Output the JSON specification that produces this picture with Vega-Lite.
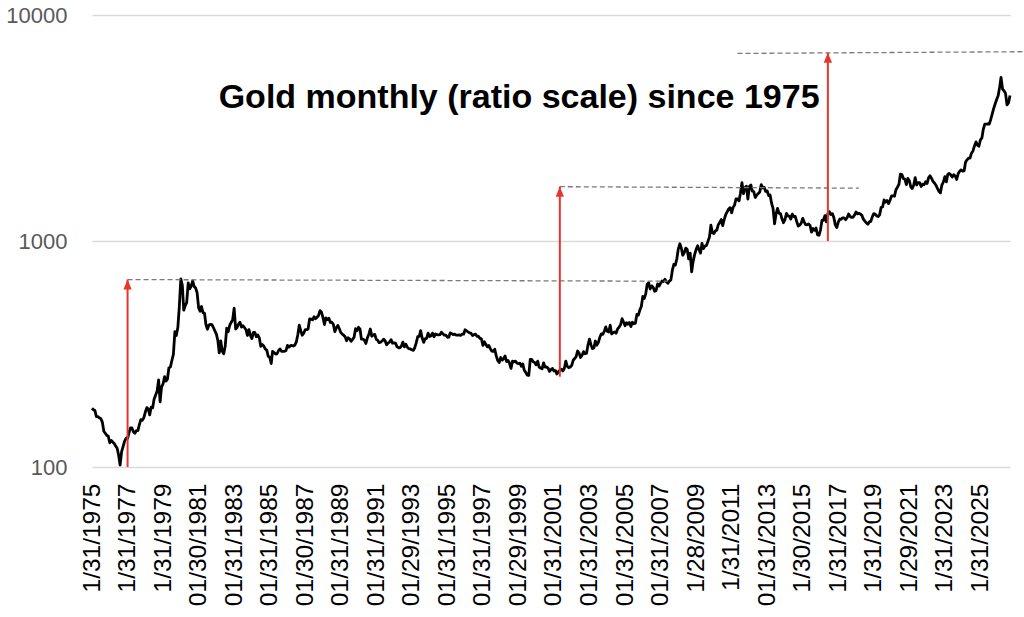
{
"$schema": "https://vega.github.io/schema/vega-lite/v6.json",
"autosize": {"type": "none"},
"padding": {"left": 92, "top": 15, "right": 14, "bottom": 150},
"width": 918,
"height": 452,
"background": "white",
"config": {"view": {"stroke": null}, "font": "Liberation Sans", "axisX": {"labelOverlap": false, "labelFlush": false, "labelBound": false}},
"datasets": {
"gold": [
{"d":"1975-01","v":182},{"d":"1975-02","v":179},{"d":"1975-03","v":178},{"d":"1975-04","v":167},{"d":"1975-05","v":167},{"d":"1975-06","v":165},{"d":"1975-07","v":164},{"d":"1975-08","v":158},{"d":"1975-09","v":144},{"d":"1975-10","v":141},{"d":"1975-11","v":138},{"d":"1975-12","v":137},
{"d":"1976-01","v":128},{"d":"1976-02","v":131},{"d":"1976-03","v":129},{"d":"1976-04","v":127},{"d":"1976-05","v":124},{"d":"1976-06","v":121},{"d":"1976-07","v":113},{"d":"1976-08","v":102},{"d":"1976-09","v":117},{"d":"1976-10","v":123},{"d":"1976-11","v":130},{"d":"1976-12","v":134},
{"d":"1977-01","v":134},{"d":"1977-02","v":142},{"d":"1977-03","v":149},{"d":"1977-04","v":149},{"d":"1977-05","v":143},{"d":"1977-06","v":141},{"d":"1977-07","v":145},{"d":"1977-08","v":145},{"d":"1977-09","v":154},{"d":"1977-10","v":162},{"d":"1977-11","v":161},{"d":"1977-12","v":165},
{"d":"1978-01","v":175},{"d":"1978-02","v":183},{"d":"1978-03","v":181},{"d":"1978-04","v":170},{"d":"1978-05","v":184},{"d":"1978-06","v":183},{"d":"1978-07","v":200},{"d":"1978-08","v":208},{"d":"1978-09","v":217},{"d":"1978-10","v":243},{"d":"1978-11","v":194},{"d":"1978-12","v":226},
{"d":"1979-01","v":233},{"d":"1979-02","v":251},{"d":"1979-03","v":240},{"d":"1979-04","v":245},{"d":"1979-05","v":275},{"d":"1979-06","v":277},{"d":"1979-07","v":296},{"d":"1979-08","v":315},{"d":"1979-09","v":397},{"d":"1979-10","v":382},{"d":"1979-11","v":415},{"d":"1979-12","v":512},
{"d":"1980-01","v":680},{"d":"1980-02","v":637},{"d":"1980-03","v":494},{"d":"1980-04","v":518},{"d":"1980-05","v":535},{"d":"1980-06","v":653},{"d":"1980-07","v":614},{"d":"1980-08","v":631},{"d":"1980-09","v":667},{"d":"1980-10","v":629},{"d":"1980-11","v":619},{"d":"1980-12","v":590},
{"d":"1981-01","v":506},{"d":"1981-02","v":489},{"d":"1981-03","v":513},{"d":"1981-04","v":482},{"d":"1981-05","v":480},{"d":"1981-06","v":426},{"d":"1981-07","v":407},{"d":"1981-08","v":425},{"d":"1981-09","v":428},{"d":"1981-10","v":427},{"d":"1981-11","v":414},{"d":"1981-12","v":400},
{"d":"1982-01","v":387},{"d":"1982-02","v":362},{"d":"1982-03","v":320},{"d":"1982-04","v":361},{"d":"1982-05","v":325},{"d":"1982-06","v":317},{"d":"1982-07","v":342},{"d":"1982-08","v":411},{"d":"1982-09","v":397},{"d":"1982-10","v":423},{"d":"1982-11","v":436},{"d":"1982-12","v":448},
{"d":"1983-01","v":505},{"d":"1983-02","v":408},{"d":"1983-03","v":414},{"d":"1983-04","v":429},{"d":"1983-05","v":437},{"d":"1983-06","v":416},{"d":"1983-07","v":422},{"d":"1983-08","v":414},{"d":"1983-09","v":405},{"d":"1983-10","v":382},{"d":"1983-11","v":405},{"d":"1983-12","v":382},
{"d":"1984-01","v":370},{"d":"1984-02","v":394},{"d":"1984-03","v":394},{"d":"1984-04","v":377},{"d":"1984-05","v":384},{"d":"1984-06","v":373},{"d":"1984-07","v":342},{"d":"1984-08","v":348},{"d":"1984-09","v":343},{"d":"1984-10","v":333},{"d":"1984-11","v":329},{"d":"1984-12","v":309},
{"d":"1985-01","v":306},{"d":"1985-02","v":287},{"d":"1985-03","v":325},{"d":"1985-04","v":321},{"d":"1985-05","v":316},{"d":"1985-06","v":317},{"d":"1985-07","v":327},{"d":"1985-08","v":333},{"d":"1985-09","v":325},{"d":"1985-10","v":325},{"d":"1985-11","v":325},{"d":"1985-12","v":327},
{"d":"1986-01","v":345},{"d":"1986-02","v":339},{"d":"1986-03","v":344},{"d":"1986-04","v":345},{"d":"1986-05","v":343},{"d":"1986-06","v":346},{"d":"1986-07","v":357},{"d":"1986-08","v":384},{"d":"1986-09","v":424},{"d":"1986-10","v":401},{"d":"1986-11","v":383},{"d":"1986-12","v":391},
{"d":"1987-01","v":405},{"d":"1987-02","v":405},{"d":"1987-03","v":408},{"d":"1987-04","v":452},{"d":"1987-05","v":451},{"d":"1987-06","v":448},{"d":"1987-07","v":462},{"d":"1987-08","v":453},{"d":"1987-09","v":460},{"d":"1987-10","v":468},{"d":"1987-11","v":492},{"d":"1987-12","v":484},
{"d":"1988-01","v":458},{"d":"1988-02","v":427},{"d":"1988-03","v":457},{"d":"1988-04","v":449},{"d":"1988-05","v":455},{"d":"1988-06","v":436},{"d":"1988-07","v":437},{"d":"1988-08","v":428},{"d":"1988-09","v":397},{"d":"1988-10","v":412},{"d":"1988-11","v":423},{"d":"1988-12","v":410},
{"d":"1989-01","v":394},{"d":"1989-02","v":387},{"d":"1989-03","v":383},{"d":"1989-04","v":377},{"d":"1989-05","v":362},{"d":"1989-06","v":373},{"d":"1989-07","v":369},{"d":"1989-08","v":360},{"d":"1989-09","v":367},{"d":"1989-10","v":375},{"d":"1989-11","v":409},{"d":"1989-12","v":401},
{"d":"1990-01","v":415},{"d":"1990-02","v":407},{"d":"1990-03","v":368},{"d":"1990-04","v":368},{"d":"1990-05","v":364},{"d":"1990-06","v":352},{"d":"1990-07","v":372},{"d":"1990-08","v":387},{"d":"1990-09","v":408},{"d":"1990-10","v":379},{"d":"1990-11","v":384},{"d":"1990-12","v":386},
{"d":"1991-01","v":367},{"d":"1991-02","v":363},{"d":"1991-03","v":355},{"d":"1991-04","v":357},{"d":"1991-05","v":361},{"d":"1991-06","v":368},{"d":"1991-07","v":362},{"d":"1991-08","v":347},{"d":"1991-09","v":354},{"d":"1991-10","v":357},{"d":"1991-11","v":366},{"d":"1991-12","v":353},
{"d":"1992-01","v":354},{"d":"1992-02","v":353},{"d":"1992-03","v":341},{"d":"1992-04","v":337},{"d":"1992-05","v":337},{"d":"1992-06","v":343},{"d":"1992-07","v":357},{"d":"1992-08","v":340},{"d":"1992-09","v":349},{"d":"1992-10","v":339},{"d":"1992-11","v":334},{"d":"1992-12","v":333},
{"d":"1993-01","v":330},{"d":"1993-02","v":328},{"d":"1993-03","v":337},{"d":"1993-04","v":354},{"d":"1993-05","v":377},{"d":"1993-06","v":378},{"d":"1993-07","v":401},{"d":"1993-08","v":372},{"d":"1993-09","v":356},{"d":"1993-10","v":369},{"d":"1993-11","v":371},{"d":"1993-12","v":391},
{"d":"1994-01","v":378},{"d":"1994-02","v":381},{"d":"1994-03","v":391},{"d":"1994-04","v":377},{"d":"1994-05","v":388},{"d":"1994-06","v":385},{"d":"1994-07","v":384},{"d":"1994-08","v":385},{"d":"1994-09","v":395},{"d":"1994-10","v":389},{"d":"1994-11","v":383},{"d":"1994-12","v":383},
{"d":"1995-01","v":375},{"d":"1995-02","v":376},{"d":"1995-03","v":392},{"d":"1995-04","v":389},{"d":"1995-05","v":385},{"d":"1995-06","v":387},{"d":"1995-07","v":383},{"d":"1995-08","v":383},{"d":"1995-09","v":384},{"d":"1995-10","v":382},{"d":"1995-11","v":387},{"d":"1995-12","v":387},
{"d":"1996-01","v":405},{"d":"1996-02","v":400},{"d":"1996-03","v":396},{"d":"1996-04","v":392},{"d":"1996-05","v":391},{"d":"1996-06","v":382},{"d":"1996-07","v":385},{"d":"1996-08","v":387},{"d":"1996-09","v":379},{"d":"1996-10","v":379},{"d":"1996-11","v":371},{"d":"1996-12","v":369},
{"d":"1997-01","v":345},{"d":"1997-02","v":358},{"d":"1997-03","v":349},{"d":"1997-04","v":340},{"d":"1997-05","v":345},{"d":"1997-06","v":334},{"d":"1997-07","v":326},{"d":"1997-08","v":325},{"d":"1997-09","v":332},{"d":"1997-10","v":311},{"d":"1997-11","v":296},{"d":"1997-12","v":290},
{"d":"1998-01","v":305},{"d":"1998-02","v":297},{"d":"1998-03","v":301},{"d":"1998-04","v":310},{"d":"1998-05","v":293},{"d":"1998-06","v":296},{"d":"1998-07","v":288},{"d":"1998-08","v":273},{"d":"1998-09","v":294},{"d":"1998-10","v":292},{"d":"1998-11","v":294},{"d":"1998-12","v":288},
{"d":"1999-01","v":287},{"d":"1999-02","v":288},{"d":"1999-03","v":279},{"d":"1999-04","v":286},{"d":"1999-05","v":268},{"d":"1999-06","v":262},{"d":"1999-07","v":255},{"d":"1999-08","v":254},{"d":"1999-09","v":299},{"d":"1999-10","v":299},{"d":"1999-11","v":292},{"d":"1999-12","v":290},
{"d":"2000-01","v":283},{"d":"2000-02","v":294},{"d":"2000-03","v":277},{"d":"2000-04","v":274},{"d":"2000-05","v":272},{"d":"2000-06","v":289},{"d":"2000-07","v":277},{"d":"2000-08","v":277},{"d":"2000-09","v":274},{"d":"2000-10","v":265},{"d":"2000-11","v":270},{"d":"2000-12","v":273},
{"d":"2001-01","v":266},{"d":"2001-02","v":267},{"d":"2001-03","v":258},{"d":"2001-04","v":264},{"d":"2001-05","v":268},{"d":"2001-06","v":271},{"d":"2001-07","v":266},{"d":"2001-08","v":273},{"d":"2001-09","v":294},{"d":"2001-10","v":279},{"d":"2001-11","v":275},{"d":"2001-12","v":277},
{"d":"2002-01","v":282},{"d":"2002-02","v":297},{"d":"2002-03","v":302},{"d":"2002-04","v":308},{"d":"2002-05","v":326},{"d":"2002-06","v":319},{"d":"2002-07","v":305},{"d":"2002-08","v":312},{"d":"2002-09","v":324},{"d":"2002-10","v":317},{"d":"2002-11","v":319},{"d":"2002-12","v":347},
{"d":"2003-01","v":368},{"d":"2003-02","v":347},{"d":"2003-03","v":334},{"d":"2003-04","v":336},{"d":"2003-05","v":361},{"d":"2003-06","v":346},{"d":"2003-07","v":355},{"d":"2003-08","v":375},{"d":"2003-09","v":388},{"d":"2003-10","v":386},{"d":"2003-11","v":398},{"d":"2003-12","v":417},
{"d":"2004-01","v":399},{"d":"2004-02","v":396},{"d":"2004-03","v":424},{"d":"2004-04","v":388},{"d":"2004-05","v":393},{"d":"2004-06","v":396},{"d":"2004-07","v":391},{"d":"2004-08","v":408},{"d":"2004-09","v":416},{"d":"2004-10","v":426},{"d":"2004-11","v":453},{"d":"2004-12","v":438},
{"d":"2005-01","v":422},{"d":"2005-02","v":435},{"d":"2005-03","v":428},{"d":"2005-04","v":436},{"d":"2005-05","v":418},{"d":"2005-06","v":437},{"d":"2005-07","v":430},{"d":"2005-08","v":433},{"d":"2005-09","v":473},{"d":"2005-10","v":470},{"d":"2005-11","v":495},{"d":"2005-12","v":513},
{"d":"2006-01","v":569},{"d":"2006-02","v":557},{"d":"2006-03","v":582},{"d":"2006-04","v":644},{"d":"2006-05","v":653},{"d":"2006-06","v":613},{"d":"2006-07","v":633},{"d":"2006-08","v":624},{"d":"2006-09","v":599},{"d":"2006-10","v":604},{"d":"2006-11","v":646},{"d":"2006-12","v":632},
{"d":"2007-01","v":650},{"d":"2007-02","v":665},{"d":"2007-03","v":662},{"d":"2007-04","v":677},{"d":"2007-05","v":659},{"d":"2007-06","v":650},{"d":"2007-07","v":665},{"d":"2007-08","v":673},{"d":"2007-09","v":743},{"d":"2007-10","v":789},{"d":"2007-11","v":783},{"d":"2007-12","v":834},
{"d":"2008-01","v":923},{"d":"2008-02","v":972},{"d":"2008-03","v":934},{"d":"2008-04","v":865},{"d":"2008-05","v":886},{"d":"2008-06","v":930},{"d":"2008-07","v":918},{"d":"2008-08","v":833},{"d":"2008-09","v":884},{"d":"2008-10","v":730},{"d":"2008-11","v":815},{"d":"2008-12","v":870},
{"d":"2009-01","v":919},{"d":"2009-02","v":952},{"d":"2009-03","v":916},{"d":"2009-04","v":884},{"d":"2009-05","v":975},{"d":"2009-06","v":926},{"d":"2009-07","v":949},{"d":"2009-08","v":955},{"d":"2009-09","v":996},{"d":"2009-10","v":1040},{"d":"2009-11","v":1175},{"d":"2009-12","v":1088},
{"d":"2010-01","v":1078},{"d":"2010-02","v":1109},{"d":"2010-03","v":1115},{"d":"2010-04","v":1180},{"d":"2010-05","v":1207},{"d":"2010-06","v":1244},{"d":"2010-07","v":1169},{"d":"2010-08","v":1246},{"d":"2010-09","v":1307},{"d":"2010-10","v":1346},{"d":"2010-11","v":1386},{"d":"2010-12","v":1405},
{"d":"2011-01","v":1333},{"d":"2011-02","v":1411},{"d":"2011-03","v":1439},{"d":"2011-04","v":1535},{"d":"2011-05","v":1536},{"d":"2011-06","v":1505},{"d":"2011-07","v":1628},{"d":"2011-08","v":1813},{"d":"2011-09","v":1620},{"d":"2011-10","v":1722},{"d":"2011-11","v":1746},{"d":"2011-12","v":1531},
{"d":"2012-01","v":1744},{"d":"2012-02","v":1770},{"d":"2012-03","v":1662},{"d":"2012-04","v":1651},{"d":"2012-05","v":1558},{"d":"2012-06","v":1598},{"d":"2012-07","v":1622},{"d":"2012-08","v":1648},{"d":"2012-09","v":1776},{"d":"2012-10","v":1719},{"d":"2012-11","v":1726},{"d":"2012-12","v":1657},
{"d":"2013-01","v":1664},{"d":"2013-02","v":1588},{"d":"2013-03","v":1598},{"d":"2013-04","v":1469},{"d":"2013-05","v":1394},{"d":"2013-06","v":1192},{"d":"2013-07","v":1314},{"d":"2013-08","v":1394},{"d":"2013-09","v":1327},{"d":"2013-10","v":1323},{"d":"2013-11","v":1253},{"d":"2013-12","v":1204},
{"d":"2014-01","v":1244},{"d":"2014-02","v":1326},{"d":"2014-03","v":1291},{"d":"2014-04","v":1288},{"d":"2014-05","v":1250},{"d":"2014-06","v":1315},{"d":"2014-07","v":1282},{"d":"2014-08","v":1286},{"d":"2014-09","v":1216},{"d":"2014-10","v":1164},{"d":"2014-11","v":1175},{"d":"2014-12","v":1199},
{"d":"2015-01","v":1260},{"d":"2015-02","v":1212},{"d":"2015-03","v":1183},{"d":"2015-04","v":1180},{"d":"2015-05","v":1189},{"d":"2015-06","v":1171},{"d":"2015-07","v":1095},{"d":"2015-08","v":1135},{"d":"2015-09","v":1115},{"d":"2015-10","v":1142},{"d":"2015-11","v":1065},{"d":"2015-12","v":1060},
{"d":"2016-01","v":1118},{"d":"2016-02","v":1234},{"d":"2016-03","v":1233},{"d":"2016-04","v":1294},{"d":"2016-05","v":1215},{"d":"2016-06","v":1321},{"d":"2016-07","v":1349},{"d":"2016-08","v":1309},{"d":"2016-09","v":1322},{"d":"2016-10","v":1272},{"d":"2016-11","v":1178},{"d":"2016-12","v":1146},
{"d":"2017-01","v":1211},{"d":"2017-02","v":1251},{"d":"2017-03","v":1247},{"d":"2017-04","v":1266},{"d":"2017-05","v":1266},{"d":"2017-06","v":1242},{"d":"2017-07","v":1268},{"d":"2017-08","v":1316},{"d":"2017-09","v":1283},{"d":"2017-10","v":1271},{"d":"2017-11","v":1275},{"d":"2017-12","v":1303},
{"d":"2018-01","v":1345},{"d":"2018-02","v":1318},{"d":"2018-03","v":1325},{"d":"2018-04","v":1316},{"d":"2018-05","v":1298},{"d":"2018-06","v":1250},{"d":"2018-07","v":1224},{"d":"2018-08","v":1202},{"d":"2018-09","v":1187},{"d":"2018-10","v":1215},{"d":"2018-11","v":1222},{"d":"2018-12","v":1279},
{"d":"2019-01","v":1321},{"d":"2019-02","v":1313},{"d":"2019-03","v":1292},{"d":"2019-04","v":1283},{"d":"2019-05","v":1305},{"d":"2019-06","v":1409},{"d":"2019-07","v":1414},{"d":"2019-08","v":1520},{"d":"2019-09","v":1485},{"d":"2019-10","v":1511},{"d":"2019-11","v":1464},{"d":"2019-12","v":1515},
{"d":"2020-01","v":1582},{"d":"2020-02","v":1585},{"d":"2020-03","v":1577},{"d":"2020-04","v":1687},{"d":"2020-05","v":1730},{"d":"2020-06","v":1781},{"d":"2020-07","v":1975},{"d":"2020-08","v":1968},{"d":"2020-09","v":1886},{"d":"2020-10","v":1879},{"d":"2020-11","v":1776},{"d":"2020-12","v":1891},
{"d":"2021-01","v":1847},{"d":"2021-02","v":1734},{"d":"2021-03","v":1708},{"d":"2021-04","v":1768},{"d":"2021-05","v":1906},{"d":"2021-06","v":1770},{"d":"2021-07","v":1814},{"d":"2021-08","v":1814},{"d":"2021-09","v":1743},{"d":"2021-10","v":1783},{"d":"2021-11","v":1774},{"d":"2021-12","v":1829},
{"d":"2022-01","v":1797},{"d":"2022-02","v":1909},{"d":"2022-03","v":1942},{"d":"2022-04","v":1897},{"d":"2022-05","v":1837},{"d":"2022-06","v":1807},{"d":"2022-07","v":1766},{"d":"2022-08","v":1711},{"d":"2022-09","v":1660},{"d":"2022-10","v":1633},{"d":"2022-11","v":1768},{"d":"2022-12","v":1824},
{"d":"2023-01","v":1928},{"d":"2023-02","v":1826},{"d":"2023-03","v":1969},{"d":"2023-04","v":1990},{"d":"2023-05","v":1962},{"d":"2023-06","v":1919},{"d":"2023-07","v":1965},{"d":"2023-08","v":1940},{"d":"2023-09","v":1871},{"d":"2023-10","v":1983},{"d":"2023-11","v":2036},{"d":"2023-12","v":2063},
{"d":"2024-01","v":2040},{"d":"2024-02","v":2044},{"d":"2024-03","v":2230},{"d":"2024-04","v":2286},{"d":"2024-05","v":2327},{"d":"2024-06","v":2326},{"d":"2024-07","v":2447},{"d":"2024-08","v":2503},{"d":"2024-09","v":2634},{"d":"2024-10","v":2744},{"d":"2024-11","v":2657},{"d":"2024-12","v":2625},
{"d":"2025-01","v":2800},{"d":"2025-02","v":2860},{"d":"2025-03","v":3120},{"d":"2025-04","v":3290},{"d":"2025-05","v":3290},{"d":"2025-06","v":3300},{"d":"2025-07","v":3290},{"d":"2025-08","v":3450},{"d":"2025-09","v":3650},{"d":"2025-10","v":3860},{"d":"2025-11","v":4050},{"d":"2025-12","v":4230},
{"d":"2026-01","v":4400},{"d":"2026-02","v":4800},{"d":"2026-03","v":5300},{"d":"2026-04","v":4700},{"d":"2026-05","v":4620},{"d":"2026-06","v":4500},{"d":"2026-07","v":4000},{"d":"2026-08","v":4080},{"d":"2026-09","v":4400}
],
"dashes": [
{"seg":"a","d":"1977-01","v":675},{"seg":"a","d":"2007-06","v":664},
{"seg":"b","d":"2001-05","v":1739},{"seg":"b","d":"2018-03","v":1713},
{"seg":"c","d":"2011-05","v":6760},{"seg":"c","d":"2027-06","v":6880}
],
"arrows": [
{"d":"1977-01","lo":100,"v":675},
{"d":"2001-05","lo":251,"v":1739},
{"d":"2016-06","lo":1000,"v":6800}
],
"label": [
{"d":"1999-01-15","v":3896,"text":"Gold monthly (ratio scale) since 1975"}
]
},
"encoding": {
"x": {"field": "d", "type": "temporal",
"scale": {"type": "utc", "domain": [{"year":1975,"month":1,"date":1,"utc":true},{"year":2026,"month":9,"date":1,"utc":true}]},
"axis": {"title": null, "grid": false, "domain": false, "ticks": false, "labelAngle": -90, "labelFontSize": 24.5, "labelColor": "#000000", "labelFont": "Liberation Sans", "labelPadding": 16, "labelOverlap": false, "labelFlush": false, "labelBound": false,
"values": [
{"year":1975,"month":1,"date":1,"utc":true},{"year":1977,"month":1,"date":1,"utc":true},{"year":1979,"month":1,"date":1,"utc":true},{"year":1981,"month":1,"date":1,"utc":true},{"year":1983,"month":1,"date":1,"utc":true},{"year":1985,"month":1,"date":1,"utc":true},{"year":1987,"month":1,"date":1,"utc":true},{"year":1989,"month":1,"date":1,"utc":true},{"year":1991,"month":1,"date":1,"utc":true},{"year":1993,"month":1,"date":1,"utc":true},{"year":1995,"month":1,"date":1,"utc":true},{"year":1997,"month":1,"date":1,"utc":true},{"year":1999,"month":1,"date":1,"utc":true},{"year":2001,"month":1,"date":1,"utc":true},{"year":2003,"month":1,"date":1,"utc":true},{"year":2005,"month":1,"date":1,"utc":true},{"year":2007,"month":1,"date":1,"utc":true},{"year":2009,"month":1,"date":1,"utc":true},{"year":2011,"month":1,"date":1,"utc":true},{"year":2013,"month":1,"date":1,"utc":true},{"year":2015,"month":1,"date":1,"utc":true},{"year":2017,"month":1,"date":1,"utc":true},{"year":2019,"month":1,"date":1,"utc":true},{"year":2021,"month":1,"date":1,"utc":true},{"year":2023,"month":1,"date":1,"utc":true},{"year":2025,"month":1,"date":1,"utc":true}
],
"labelExpr": "['1/31/1975','1/31/1977','1/31/1979','01/30/1981','01/31/1983','01/31/1985','01/30/1987','01/31/1989','01/31/1991','01/29/1993','01/31/1995','01/31/1997','01/29/1999','01/31/2001','01/31/2003','01/31/2005','01/31/2007','1/28/2009','1/31/2011','01/31/2013','1/30/2015','1/31/2017','1/31/2019','1/29/2021','1/31/2023','1/31/2025'][round((utcyear(datum.value)-1975)/2)]"
}},
"y": {"field": "v", "type": "quantitative",
"scale": {"type": "log", "domain": [100, 10000]},
"axis": {"title": null, "values": [100, 1000, 10000], "format": "d", "grid": true, "gridColor": "#d9d9d9", "gridWidth": 1.5, "domain": false, "ticks": false, "labelFontSize": 22, "labelColor": "#595959", "labelFont": "Liberation Sans", "labelPadding": 25}}
},
"layer": [
{
"data": {"name": "gold"},
"mark": {"type": "line", "color": "#000000", "strokeWidth": 2.8, "strokeJoin": "round"}
},
{
"data": {"name": "dashes"},
"mark": {"type": "line", "color": "#7a7a7a", "strokeWidth": 1.3, "strokeDash": [5, 3]},
"encoding": {
"detail": {"field": "seg"}
}
},
{
"data": {"name": "arrows"},
"mark": {"type": "rule", "color": "#e8352b", "strokeWidth": 2},
"encoding": {
"y": {"field": "lo", "type": "quantitative", "axis": {"title": null, "values": [100, 1000, 10000], "format": "d", "grid": true, "gridColor": "#d9d9d9", "gridWidth": 1.5, "domain": false, "ticks": false, "labelFontSize": 22, "labelColor": "#595959", "labelFont": "Liberation Sans", "labelPadding": 25}},
"y2": {"field": "v"}
}
},
{
"data": {"name": "arrows"},
"mark": {"type": "point", "shape": "M0,-1L0.83,1L-0.83,1Z", "size": 100, "filled": true, "color": "#e8352b", "opacity": 1, "yOffset": 5}
},
{
"data": {"name": "label"},
"mark": {"type": "text", "font": "Liberation Sans", "fontSize": 34, "fontWeight": "bold", "color": "#000000", "align": "center", "baseline": "alphabetic"},
"encoding": {
"text": {"field": "text"}
}
}
]
}
